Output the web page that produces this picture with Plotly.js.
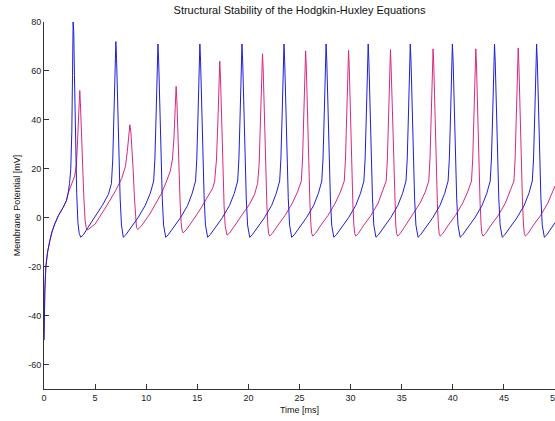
<!DOCTYPE html>
<html>
<head>
<meta charset="utf-8">
<script src="https://cdn.plot.ly/plotly-3.0.1.min.js"></script>
<style>html,body{margin:0;padding:0;background:#fff;}#chart{width:555px;height:421px;}</style>
</head>
<body>
<div id="chart"></div>
<script>
// Time [ms] and membrane potential [mV]
const magentaTime = [
  0, 0.03, 0.08, 0.18, 0.35, 0.57, 0.8, 1.06, 1.4, 1.87, 2.2, 2.36,
  2.7, 3.0, 3.18, 3.34, 3.45, 3.5, 3.56, 3.66, 3.76, 3.9, 4.02, 4.12, 4.25,
  4.5, 5.0, 6.0, 7.0, 7.6, 7.97, 8.15, 8.3, 8.4, 8.5, 8.62, 8.72, 8.85, 8.95, 9.05, 9.18,
  9.5, 10.35, 10.84, 11.5, 12.0, 12.35, 12.57, 12.72, 12.84, 12.93, 13.0, 13.1, 13.2, 13.32, 13.42, 13.5, 13.62,
  13.9, 14.5, 15.3, 16.0, 16.5, 16.7, 16.88, 17.02, 17.12, 17.2, 17.27, 17.37, 17.5, 17.62, 17.72, 17.8, 17.9,
  18.15, 18.7, 19.4, 20.1, 20.6, 20.9, 21.05, 21.18, 21.3, 21.38, 21.45, 21.55, 21.68, 21.8, 21.9, 21.98, 22.08,
  22.33, 22.9, 23.6, 24.3, 24.8, 25.18, 25.3, 25.42, 25.52, 25.6, 25.67, 25.77, 25.9, 26.02, 26.12, 26.2, 26.3,
  26.55, 27.1, 27.8, 28.5, 29.0, 29.38, 29.5, 29.62, 29.72, 29.8, 29.87, 29.97, 30.1, 30.22, 30.32, 30.4, 30.5,
  30.75, 31.3, 32.0, 32.7, 33.1, 33.48, 33.6, 33.72, 33.82, 33.9, 33.97, 34.07, 34.2, 34.32, 34.42, 34.5, 34.6,
  34.85, 35.4, 36.1, 36.8, 37.3, 37.65, 37.77, 37.89, 37.99, 38.07, 38.14, 38.24, 38.37, 38.49, 38.59, 38.67, 38.77,
  39.02, 39.57, 40.27, 40.97, 41.45, 41.83, 41.95, 42.07, 42.17, 42.25, 42.32, 42.42, 42.55, 42.67, 42.77, 42.85, 42.95,
  43.2, 43.75, 44.45, 45.15, 45.6, 45.98, 46.1, 46.22, 46.32, 46.4, 46.47, 46.57, 46.7, 46.82, 46.92, 47.0, 47.1,
  47.35, 47.9, 48.6, 49.3, 49.8, 50
];
const magentaVoltage = [
  -50, -40, -30, -20, -14, -9.4, -5.5, -2.5, 0.8, 4.2, 7, 10,
  13.5, 17, 22, 36, 48, 52, 47, 33, 22, 8, -1, -4, -5,
  -4.2, -2.6, 4, 11, 16, 21, 27, 34, 38, 35, 28, 20, 8, -1, -4, -4.8,
  -3.5, 1.5, 5, 10, 15, 19, 24, 33, 45, 53.7, 48, 33, 20, 6, -2, -5, -6.2,
  -5, -1.5, 3.5, 8.5, 12, 15, 24, 40, 55, 64, 57, 40, 20, 5, -3, -6, -7.1,
  -6.3, -3, 1, 5.5, 9.5, 14, 22, 38, 56, 67, 60, 43, 22, 6, -3, -6.5, -7.5,
  -6.5, -3, 1, 6, 10.5, 15, 24, 42, 58, 68.2, 61, 44, 22, 6, -3, -6.5, -7.5,
  -6.5, -3, 1, 6, 10.5, 15, 24, 42, 58, 68.4, 61, 44, 22, 6, -3, -6.5, -7.5,
  -6.5, -3, 1, 6, 10.5, 15, 24, 42, 58, 68.7, 61, 44, 22, 6, -3, -6.5, -7.5,
  -6.5, -3, 1, 6, 10.5, 15, 24, 42, 58, 69, 62, 44, 22, 6, -3, -6.5, -7.5,
  -6.5, -3, 1, 6, 10.5, 15, 24, 42, 58, 69, 62, 44, 22, 6, -3, -6.5, -7.5,
  -6.5, -3, 1, 6, 10.5, 15, 24, 42, 58, 69.4, 62, 44, 22, 6, -3, -6.5, -7.5,
  -6.5, -3, 1, 6, 10.5, 13
];
const blueTime = [
  0, 0.03, 0.08, 0.18, 0.35, 0.57, 0.8, 1.06, 1.4, 1.87, 2.2, 2.36,
  2.5, 2.62, 2.72, 2.79, 2.85, 2.91, 2.98, 3.08, 3.2, 3.32, 3.45, 3.6,
  3.85, 4.3, 5.0, 5.7, 6.3, 6.6, 6.73, 6.85, 6.95, 7.03, 7.1, 7.2, 7.33, 7.45, 7.58, 7.67, 7.76,
  8.0, 8.5, 9.2, 9.9, 10.4, 10.73, 10.85, 10.97, 11.07, 11.15, 11.22, 11.32, 11.45, 11.57, 11.7, 11.81, 11.91,
  12.15, 12.65, 13.35, 14.05, 14.5, 14.83, 14.95, 15.07, 15.17, 15.25, 15.32, 15.42, 15.55, 15.67, 15.8, 15.91, 16.01,
  16.25, 16.75, 17.45, 18.15, 18.62, 18.95, 19.07, 19.19, 19.29, 19.37, 19.44, 19.54, 19.67, 19.79, 19.92, 20.03, 20.13,
  20.37, 20.87, 21.57, 22.27, 22.73, 23.06, 23.18, 23.3, 23.4, 23.48, 23.55, 23.65, 23.78, 23.9, 24.03, 24.14, 24.24,
  24.48, 24.98, 25.68, 26.38, 26.85, 27.18, 27.3, 27.42, 27.52, 27.6, 27.67, 27.77, 27.9, 28.02, 28.15, 28.26, 28.36,
  28.6, 29.1, 29.8, 30.5, 30.97, 31.3, 31.42, 31.54, 31.64, 31.72, 31.79, 31.89, 32.02, 32.14, 32.27, 32.38, 32.48,
  32.72, 33.22, 33.92, 34.62, 35.09, 35.42, 35.54, 35.66, 35.76, 35.84, 35.91, 36.01, 36.14, 36.26, 36.39, 36.5, 36.6,
  36.84, 37.34, 38.04, 38.74, 39.21, 39.54, 39.66, 39.78, 39.88, 39.96, 40.03, 40.13, 40.26, 40.38, 40.51, 40.62, 40.72,
  40.96, 41.46, 42.16, 42.86, 43.33, 43.66, 43.78, 43.9, 44.0, 44.08, 44.15, 44.25, 44.38, 44.5, 44.63, 44.74, 44.84,
  45.08, 45.58, 46.28, 46.98, 47.45, 47.78, 47.9, 48.02, 48.12, 48.2, 48.27, 48.37, 48.5, 48.62, 48.75, 48.86, 48.96,
  49.2, 49.7, 50
];
const blueVoltage = [
  -50, -40, -30, -20, -14, -9.4, -5.5, -2.5, 0.8, 4.2, 7, 10,
  14, 20, 35, 58, 80, 76, 58, 30, 10, -2, -6.5, -8,
  -7, -4, 0.5, 5, 9.5, 14, 24, 42, 60, 72, 65, 46, 24, 8, -3, -7, -8,
  -7, -4, 0, 5, 10, 15, 24, 42, 60, 71, 64, 46, 24, 8, -3, -7, -8,
  -7, -4, 0, 5, 10, 15, 24, 42, 60, 71, 64, 46, 24, 8, -3, -7, -8,
  -7, -4, 0, 5, 10, 15, 24, 42, 60, 71, 64, 46, 24, 8, -3, -7, -8,
  -7, -4, 0, 5, 10, 15, 24, 42, 60, 71, 64, 46, 24, 8, -3, -7, -8,
  -7, -4, 0, 5, 10, 15, 24, 42, 60, 71, 64, 46, 24, 8, -3, -7, -8,
  -7, -4, 0, 5, 10, 15, 24, 42, 60, 71, 64, 46, 24, 8, -3, -7, -8,
  -7, -4, 0, 5, 10, 15, 24, 42, 60, 71, 64, 46, 24, 8, -3, -7, -8,
  -7, -4, 0, 5, 10, 15, 24, 42, 60, 71, 64, 46, 24, 8, -3, -7, -8,
  -7, -4, 0, 5, 10, 15, 24, 42, 60, 71, 64, 46, 24, 8, -3, -7, -8,
  -7, -4, 0, 5, 10, 15, 24, 42, 60, 71, 64, 46, 24, 8, -3, -7, -8,
  -7, -4, -2
];
const xTicks = [0, 5, 10, 15, 20, 25, 30, 35, 40, 45, 50];
const yTicks = [-60, -40, -20, 0, 20, 40, 60, 80];

const font = 'Liberation Sans, Arial, Helvetica, sans-serif';
const traces = [
  {x: magentaTime, y: magentaVoltage, type: 'scatter', mode: 'lines',
   line: {color: '#d8287f', width: 1}, hoverinfo: 'skip'},
  {x: blueTime, y: blueVoltage, type: 'scatter', mode: 'lines',
   line: {color: '#1e1ed8', width: 1}, hoverinfo: 'skip'}
];
const axisCommon = {
  showgrid: false, zeroline: false, showline: true, linecolor: '#333', linewidth: 1,
  ticks: 'inside', ticklen: 5, tickcolor: '#333', tickwidth: 1,
  tickfont: {family: font, size: 9, color: '#222'}, mirror: false,
  ticklabeloverflow: 'allow'
};
const layout = {
  width: 555, height: 421,
  margin: {l: 44, r: 0, t: 22, b: 32, pad: 0},
  paper_bgcolor: '#fff', plot_bgcolor: '#fff',
  showlegend: false,
  title: {text: 'Structural Stability of the Hodgkin-Huxley Equations',
          font: {family: font, size: 11, color: '#111'},
          x: 0.5, xref: 'paper', y: 0.976, yref: 'container', yanchor: 'middle'},
  xaxis: Object.assign({}, axisCommon, {
    range: [0, 50], tickvals: xTicks, ticktext: xTicks.map(String),
    title: {text: 'Time [ms]', font: {family: font, size: 9, color: '#111'}, standoff: 4}
  }),
  yaxis: Object.assign({}, axisCommon, {
    range: [-70, 80], tickvals: yTicks, ticktext: yTicks.map(String),
    title: {text: 'Membrane Potential [mV]', font: {family: font, size: 9, color: '#111'}, standoff: 6}
  })
};
Plotly.newPlot('chart', traces, layout, {displayModeBar: false, staticPlot: true});
</script>
</body>
</html>
